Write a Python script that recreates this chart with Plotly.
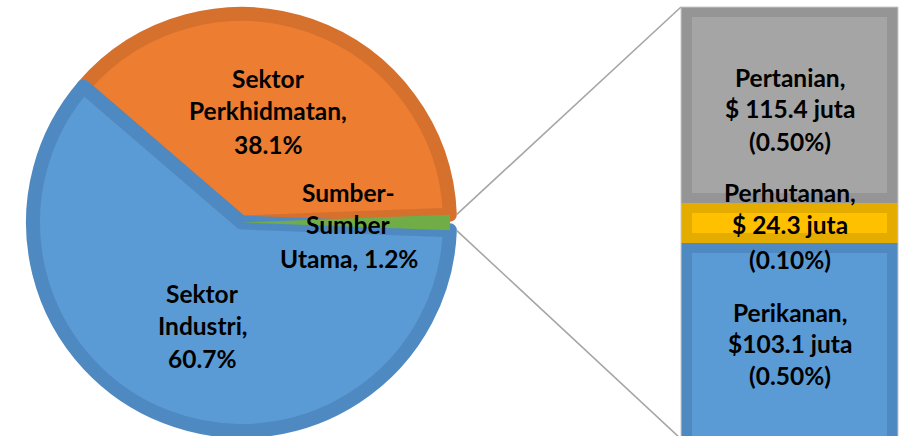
import math
import plotly.graph_objects as go

# ---------------- data ----------------
pie_labels = ["Sektor Perkhidmatan", "Sektor Industri", "Sumber-Sumber Utama"]
pie_values = [38.1, 60.7, 1.2]
pie_fill = ["#ED7D31", "#5B9BD5", "#70AD47"]
pie_edge = ["#D5712D", "#4F89C1", "#6AA444"]

bar_labels = ["Perikanan", "Perhutanan", "Pertanian"]        # bottom -> top
bar_juta = [103.1, 24.3, 115.4]
bar_pct = [0.50, 0.10, 0.50]
bar_fill = ["#5B9BD5", "#FFC000", "#A5A5A5"]
bar_edge = ["#4F89C1", "#E5AC00", "#959595"]

pie_text_lines = [
    ["Sektor", "Perkhidmatan,", f"{pie_values[0]}%"],
    ["Sektor", "Industri,", f"{pie_values[1]}%"],
    ["Sumber-", "Sumber", f"Utama, {pie_values[2]}%"],
]
bar_text_lines = [
    [f"{bar_labels[0]},", f"${bar_juta[0]} juta", f"({bar_pct[0]:.2f}%)"],
    [f"{bar_labels[1]},", f"$ {bar_juta[1]} juta", f"({bar_pct[1]:.2f}%)"],
    [f"{bar_labels[2]},", f"$ {bar_juta[2]} juta", f"({bar_pct[2]:.2f}%)"],
]

# ---------------- layout constants (pixels) ----------------
W, H = 907, 436
pie_cx, pie_cy = 241.5, 222.5        # from top-left
pie_r_outer = 215.5
pie_stroke = 14
pie_r = pie_r_outer - pie_stroke / 2
bar_x0, bar_x1, bar_top = 681, 898, 7
inset_x, inset_y = 11, 10

def px(x):
    return x / W

def py(y):
    return 1 - y / H

fig = go.Figure()

# ---------------- pie ----------------
total = sum(pie_values)
rotation = 90 + 360 * (pie_values[1] + pie_values[2] / 2) / total
fig.add_trace(go.Pie(
    labels=pie_labels, values=pie_values, sort=False,
    direction="counterclockwise", rotation=rotation,
    marker=dict(colors=pie_fill, line=dict(color=pie_edge, width=[pie_stroke, pie_stroke, 0])),
    textinfo="none", hoverinfo="label+percent", showlegend=False,
    domain=dict(x=[px(pie_cx - pie_r), px(pie_cx + pie_r)],
                y=[py(pie_cy + pie_r), py(pie_cy - pie_r)]),
))

# ---------------- stacked bar (outer = edge colour, inner = fill) ----------------
bar_total = sum(bar_pct)
dom_top = py(bar_top)
unit_px = 392.7                               # pixels per unit on the bar axis
y_lo = bar_total - (H - bar_top) / unit_px
bases = [sum(bar_pct[:i]) for i in range(len(bar_pct))]
iy = inset_y / unit_px
iw = 1 - 2 * inset_x / (bar_x1 - bar_x0)

for i in range(len(bar_pct)):
    fig.add_trace(go.Bar(x=[0], y=[bar_pct[i]], base=[bases[i]], width=1,
                         marker=dict(color=bar_edge[i], line=dict(width=0)),
                         name=bar_labels[i], showlegend=False, hoverinfo="skip",
                         xaxis="x", yaxis="y"))
for i in range(len(bar_pct)):
    lo_inset = 0 if i == 0 else iy          # bottom segment runs past the frame edge
    fig.add_trace(go.Bar(x=[0], y=[bar_pct[i] - iy - lo_inset], base=[bases[i] + lo_inset], width=iw,
                         marker=dict(color=bar_fill[i], line=dict(width=0)),
                         name=bar_labels[i], showlegend=False,
                         hovertext=[f"{bar_labels[i]}: ${bar_juta[i]} juta ({bar_pct[i]:.2f}%)"],
                         hoverinfo="text", xaxis="x", yaxis="y"))

def bar_y_px(v):
    return bar_top + (bar_total - v) * unit_px

shapes = []
shapes.append(dict(type="rect", xref="paper", yref="paper",
                   x0=px(bar_x0), x1=px(bar_x1), y0=py(bar_y_px(0)), y1=py(bar_y_px(bar_total)),
                   line=dict(color="#C9C9C9", width=1), fillcolor="rgba(0,0,0,0)", layer="above"))

half = math.radians(360 * pie_values[2] / total / 2)
p_top = (pie_cx + pie_r_outer * math.cos(half), pie_cy - pie_r_outer * math.sin(half))
p_bot = (pie_cx + pie_r_outer * math.cos(half), pie_cy + pie_r_outer * math.sin(half))
for (sx, sy), (ex, ey) in [(p_top, (bar_x0, bar_y_px(bar_total))), (p_bot, (bar_x0, bar_y_px(0)))]:
    shapes.append(dict(type="line", xref="paper", yref="paper",
                       x0=px(sx), y0=py(sy), x1=px(ex), y1=py(ey),
                       line=dict(color="#A6A6A6", width=1.6)))

# ---------------- labels ----------------
font = dict(family="Lato", size=24.5, color="#000000")
annotations = []
pie_text_pos = [(268, [78, 111, 144]), (202.5, [293, 325, 358]), (348.5, [192, 225, 258])]
for lines, (cx, ys) in zip(pie_text_lines, pie_text_pos):
    for t, y in zip(lines, ys):
        annotations.append(dict(text=f"<b>{t}</b>", x=px(cx), y=py(y), xref="paper", yref="paper",
                                xanchor="center", yanchor="middle", showarrow=False, font=font))
bar_cx = (bar_x0 + bar_x1) / 2
bar_text_y = [[312, 343, 375], [192, 225, 259], [77, 108, 141]]
for lines, ys in zip(bar_text_lines, bar_text_y):
    for t, y in zip(lines, ys):
        annotations.append(dict(text=f"<b>{t}</b>", x=px(bar_cx), y=py(y), xref="paper", yref="paper",
                                xanchor="center", yanchor="middle", showarrow=False, font=font))

fig.update_layout(
    width=W, height=H, margin=dict(l=0, r=0, t=0, b=0),
    paper_bgcolor="white", plot_bgcolor="rgba(0,0,0,0)",
    barmode="overlay", bargap=0,
    xaxis=dict(domain=[px(bar_x0), px(bar_x1)], range=[-0.5, 0.5], visible=False, fixedrange=True),
    yaxis=dict(domain=[0, dom_top], range=[y_lo, bar_total], visible=False, fixedrange=True),
    shapes=shapes, annotations=annotations, showlegend=False,
)

fig.write_html("out.html", config={"displayModeBar": False},
               post_script="document.body.style.margin='0px';document.body.style.overflow='hidden';")
